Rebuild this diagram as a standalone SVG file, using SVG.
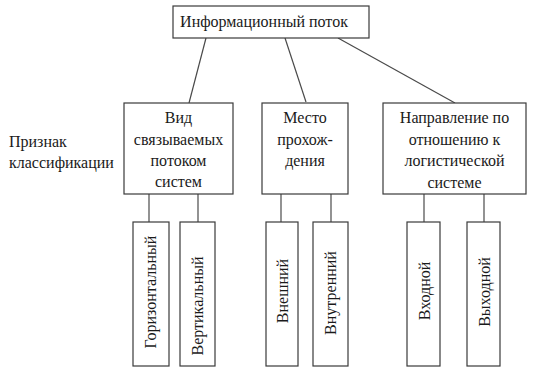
<svg xmlns="http://www.w3.org/2000/svg" width="536" height="377" viewBox="0 0 536 377">
<defs>
<rect id="unused" width="0" height="0"/>
</defs>
<rect width="536" height="377" fill="#fff"/>
<g id="connectors" stroke="#4a4a4a" stroke-width="1.2" fill="none">
<line x1="206" y1="38" x2="189" y2="103"/>
<line x1="285" y1="38" x2="306" y2="102"/>
<line x1="338" y1="38" x2="455" y2="103"/>
<line x1="149" y1="194" x2="149" y2="222"/>
<line x1="198" y1="194" x2="198" y2="222"/>
<line x1="281" y1="194" x2="281" y2="222"/>
<line x1="331" y1="194" x2="331" y2="222"/>
<line x1="424" y1="194" x2="424" y2="222"/>
<line x1="484" y1="194" x2="484" y2="222"/>
</g>
<g fill="#fff" stroke="#3a3a3a" stroke-width="1.2">
<rect id="root" x="173" y="6" width="196" height="32"/>
<rect id="n1" x="124" y="103" width="109" height="91"/>
<rect id="n2" x="262" y="103" width="86" height="91"/>
<rect id="n3" x="383" y="103" width="143" height="91"/>
<rect id="l1" x="133" y="222" width="36" height="144"/>
<rect id="l2" x="180" y="222" width="35" height="144"/>
<rect id="l3" x="266" y="222" width="32" height="144"/>
<rect id="l4" x="313" y="222" width="35" height="144"/>
<rect id="l5" x="407" y="222" width="33" height="144"/>
<rect id="l6" x="467" y="222" width="33" height="144"/>
</g>
<text x="264" y="27" font-family="Liberation Serif" font-size="16" fill="#1a1a1a" text-anchor="middle">Информационный поток</text>
<text x="9" y="147" font-family="Liberation Serif" font-size="16" fill="#1a1a1a">Признак</text>
<text x="9" y="168" font-family="Liberation Serif" font-size="16" fill="#1a1a1a">классификации</text>
<text x="178.5" y="123" font-family="Liberation Serif" font-size="16" fill="#1a1a1a" text-anchor="middle">Вид</text>
<text x="178.5" y="145" font-family="Liberation Serif" font-size="16" fill="#1a1a1a" text-anchor="middle">связываемых</text>
<text x="178.5" y="166" font-family="Liberation Serif" font-size="16" fill="#1a1a1a" text-anchor="middle">потоком</text>
<text x="178.5" y="187" font-family="Liberation Serif" font-size="16" fill="#1a1a1a" text-anchor="middle">систем</text>
<text x="305" y="123" font-family="Liberation Serif" font-size="16" fill="#1a1a1a" text-anchor="middle">Место</text>
<text x="305" y="145" font-family="Liberation Serif" font-size="16" fill="#1a1a1a" text-anchor="middle">прохож-</text>
<text x="305" y="166" font-family="Liberation Serif" font-size="16" fill="#1a1a1a" text-anchor="middle">дения</text>
<text x="454.5" y="123" font-family="Liberation Serif" font-size="16" fill="#1a1a1a" text-anchor="middle">Направление по</text>
<text x="454.5" y="145" font-family="Liberation Serif" font-size="16" fill="#1a1a1a" text-anchor="middle">отношению к</text>
<text x="454.5" y="166" font-family="Liberation Serif" font-size="16" fill="#1a1a1a" text-anchor="middle">логистической</text>
<text x="454.5" y="188" font-family="Liberation Serif" font-size="16" fill="#1a1a1a" text-anchor="middle">системе</text>
<text transform="translate(156,292) rotate(-90)" font-family="Liberation Serif" font-size="16" fill="#1a1a1a" text-anchor="middle">Горизонтальный</text>
<text transform="translate(203,306) rotate(-90)" font-family="Liberation Serif" font-size="16" fill="#1a1a1a" text-anchor="middle">Вертикальный</text>
<text transform="translate(287.5,291) rotate(-90)" font-family="Liberation Serif" font-size="16" fill="#1a1a1a" text-anchor="middle">Внешний</text>
<text transform="translate(335.5,293) rotate(-90)" font-family="Liberation Serif" font-size="16" fill="#1a1a1a" text-anchor="middle">Внутренний</text>
<text transform="translate(430,291) rotate(-90)" font-family="Liberation Serif" font-size="16" fill="#1a1a1a" text-anchor="middle">Входной</text>
<text transform="translate(490,292) rotate(-90)" font-family="Liberation Serif" font-size="16" fill="#1a1a1a" text-anchor="middle">Выходной</text>
</svg>
